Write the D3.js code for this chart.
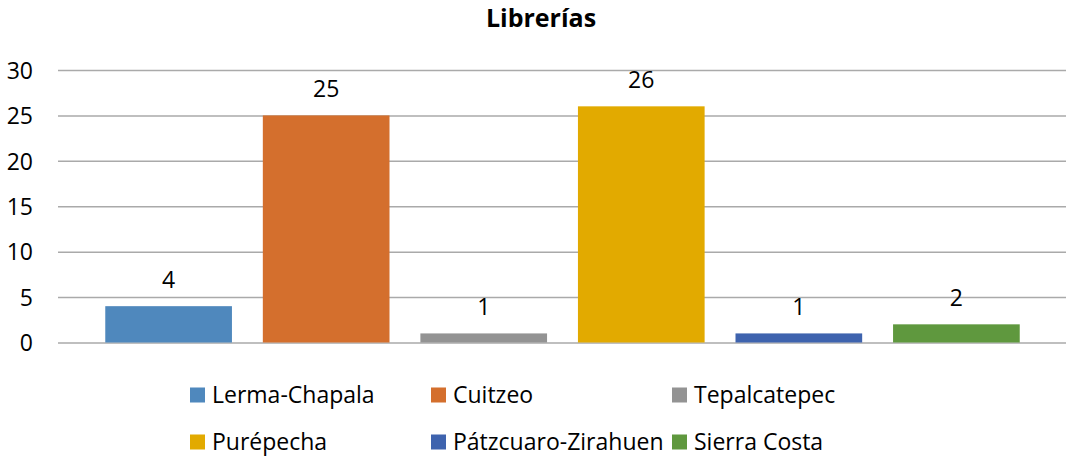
<!DOCTYPE html>
<html>
<head>
<meta charset="utf-8">
<script src="https://cdn.jsdelivr.net/npm/d3@7"></script>
<style>
  body { margin: 0; background: #fff; }
  svg { display: block; font-family: "Open Sans", sans-serif; }
</style>
</head>
<body>
<script>
// chart data
var regions = ["Lerma-Chapala", "Cuitzeo", "Tepalcatepec", "Purépecha", "Pátzcuaro-Zirahuen", "Sierra Costa"];
var counts = [4, 25, 1, 26, 1, 2];
var colors = ["#4f88bd", "#d46f2d", "#939393", "#e2aa00", "#3e63ae", "#5f983e"];
var yTicks = [0, 5, 10, 15, 20, 25, 30];

var draw = function() {
  let width = 1067, height = 457;
  let plot = { left: 58, right: 1067, top: 70, bottom: 342.5 };

  let svg = d3.select('body')
    .append('svg')
    .attr('width', width)
    .attr('height', height);

  let y = d3.scaleLinear().domain([0, 30]).range([plot.bottom, plot.top]);
  let x = d3.scaleBand()
    .domain(regions)
    .range([plot.left, plot.right])
    .paddingInner(0.196)
    .paddingOuter(0.3);

  // title
  svg.append('text')
    .attr('x', 541)
    .attr('y', 27)
    .attr('text-anchor', 'middle')
    .attr('font-size', 25)
    .attr('font-weight', 'bold')
    .text('Librerías');

  // gridlines + y labels
  let yAxis = d3.axisLeft(y).tickValues(yTicks).tickSize(-(plot.right - 1 - plot.left)).tickPadding(25);
  let g = svg.append('g')
    .attr('transform', 'translate(' + plot.left + ',0)')
    .call(yAxis);
  g.select('.domain').remove();
  g.selectAll('.tick line').attr('stroke', '#aaaaaa').attr('stroke-width', 1.5);
  g.selectAll('.tick text')
    .attr('font-family', '"Open Sans", sans-serif')
    .attr('font-size', 23)
    .attr('fill', '#000')
    .attr('dy', '0.36em');

  // bars
  let data = regions.map((r, i) => ({ name: r, value: counts[i], color: colors[i] }));
  svg.selectAll('rect.bar')
    .data(data)
    .enter()
    .append('rect')
    .attr('class', 'bar')
    .attr('x', d => x(d.name))
    .attr('y', d => y(d.value))
    .attr('width', x.bandwidth())
    .attr('height', d => y(0) - y(d.value))
    .attr('fill', d => d.color);

  // value labels
  svg.selectAll('text.lbl')
    .data(data)
    .enter()
    .append('text')
    .attr('class', 'lbl')
    .attr('x', d => x(d.name) + x.bandwidth() / 2)
    .attr('y', d => y(d.value) - 18)
    .attr('text-anchor', 'middle')
    .attr('font-size', 23)
    .text(d => d.value);

  // legend, 3 columns x 2 rows
  let colX = [190, 431, 672], rowY = [395, 442];
  let items = svg.selectAll('g.leg')
    .data(data)
    .enter()
    .append('g')
    .attr('class', 'leg')
    .attr('transform', (d, i) => 'translate(' + colX[i % 3] + ',' + rowY[Math.floor(i / 3)] + ')');
  items.append('rect')
    .attr('x', 0).attr('y', -7.5)
    .attr('width', 15).attr('height', 15)
    .attr('fill', d => d.color);
  items.append('text')
    .attr('x', 22)
    .attr('dy', '0.36em')
    .attr('font-size', 23)
    .text(d => d.name);
}

draw();
</script>
</body>
</html>
